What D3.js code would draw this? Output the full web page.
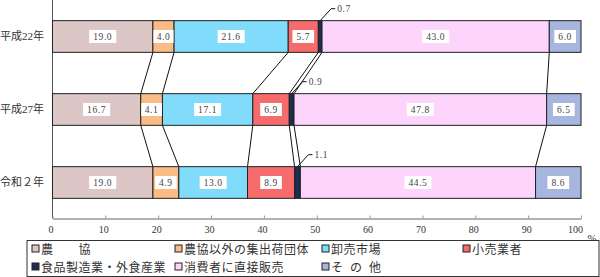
<!DOCTYPE html>
<html><head><meta charset="utf-8">
<script src="https://cdn.jsdelivr.net/npm/d3@7"></script>
<style>
html,body{margin:0;padding:0;background:#fff;}
svg{display:block;font-family:"Liberation Serif","Noto Sans CJK JP",serif;}
</style></head>
<body><svg id="c" width="600" height="277"></svg>
<script>
const categories = ["平成22年", "平成27年", "令和２年"];
const seriesNames = ["農　　協", "農協以外の集出荷団体", "卸売市場", "小売業者", "食品製造業・外食産業", "消費者に直接販売", "そ\u2002の\u2002他"];
const seriesColors = ["#dcc6c6", "#fbbb86", "#80dcfa", "#f66c6c", "#1e2c4e", "#fcd4fc", "#a6b6de"];
const valuesH22 = [19.0, 4.0, 21.6, 5.7, 0.7, 43.0, 6.0];
const valuesH27 = [16.7, 4.1, 17.1, 6.9, 0.9, 47.8, 6.5];
const valuesR2  = [19.0, 4.9, 13.0, 8.9, 1.1, 44.5, 8.6];
const rowValues = [valuesH22, valuesH27, valuesR2];
const tickValues = [0, 10, 20, 30, 40, 50, 60, 70, 80, 90, 100];

const svg = d3.select("#c");
const x = d3.scaleLinear().domain([0, 100]).range([52.5, 581]);
const y = d3.scaleBand().domain(categories).range([0, 219]).paddingInner(0.566).paddingOuter(0.283);
const fmt = d3.format(".1f");

// stacked data
const rows = categories.map((c, i) => {
  let cum = 0;
  const segs = rowValues[i].map((v, k) => {
    const s = {cat: c, k, v, x0: cum, x1: cum + v};
    cum += v;
    return s;
  });
  return {cat: c, segs};
});

// axes lines
svg.append("line").attr("x1", 52.5).attr("x2", 52.5).attr("y1", 0).attr("y2", 218.5)
  .attr("stroke", "#555").attr("stroke-width", 1);

const xAxis = svg.append("g").attr("transform", "translate(0,218.5)")
  .call(d3.axisBottom(x).tickValues(tickValues).tickSize(0).tickPadding(0).tickFormat(d => d));
xAxis.select(".domain").attr("stroke", "#999").attr("stroke-width", 1.5);
xAxis.selectAll(".tick line").remove();
xAxis.selectAll(".tick").append("line").attr("y1", 0).attr("y2", -3).attr("stroke", "#999");
xAxis.selectAll(".tick text").attr("font-size", 10).attr("fill", "#333")
  .attr("font-family", "Liberation Serif").attr("y", 14).attr("dy", 0)
  .attr("dx", d => d === 100 ? -6 : -2);
svg.append("text").attr("x", 592).attr("y", 242).attr("text-anchor", "middle")
  .attr("font-size", 11).attr("fill", "#333").text("%");

// connectors
for (let i = 0; i < rows.length - 1; i++) {
  const a = rows[i], b = rows[i + 1];
  for (let k = 0; k < a.segs.length - 1; k++) {
    svg.append("line")
      .attr("x1", x(a.segs[k].x1)).attr("y1", y(a.cat) + y.bandwidth())
      .attr("x2", x(b.segs[k].x1)).attr("y2", y(b.cat))
      .attr("stroke", "#111").attr("stroke-width", 1);
  }
}

// bars
const g = svg.append("g");
rows.forEach(r => {
  g.selectAll(null).data(r.segs).enter().append("rect")
    .attr("x", d => x(d.x0)).attr("y", y(r.cat))
    .attr("width", d => x(d.x1) - x(d.x0)).attr("height", y.bandwidth())
    .attr("fill", d => seriesColors[d.k]).attr("stroke", "#222").attr("stroke-width", 1);
});

// labels
rows.forEach(r => {
  r.segs.forEach(d => {
    const cx = (x(d.x0) + x(d.x1)) / 2;
    const cy = y(r.cat) + y.bandwidth() / 2;
    const t = fmt(d.v);
    if (d.v >= 2) {
      const lg = svg.append("g");
      const txt = lg.append("text").attr("x", cx).attr("y", cy).attr("dy", "0.35em")
        .attr("text-anchor", "middle").attr("font-size", 9.5).attr("letter-spacing", 0.6)
        .attr("fill", "#444").text(t);
      const bb = txt.node().getBBox();
      const w = Math.min(bb.width + 8, x(d.x1) - x(d.x0) - 1);
      lg.insert("rect", "text").attr("x", cx - w / 2).attr("y", cy - 6.5)
        .attr("width", w).attr("height", 13).attr("fill", "#fff");
    } else {
      const top = y(r.cat);
      const px = cx + 11, py = top - 12;
      svg.append("path").attr("d", `M${cx},${top}L${px},${py}L${px + 4},${py}`)
        .attr("fill", "none").attr("stroke", "#111").attr("stroke-width", 1);
      svg.append("text").attr("x", px + 6).attr("y", py).attr("dy", "0.35em")
        .attr("font-size", 9.5).attr("letter-spacing", 0.6).attr("fill", "#444").text(t);
    }
  });
});

// y labels
svg.selectAll(null).data(categories).enter().append("text")
  .attr("x", 44).attr("y", d => y(d) + y.bandwidth() / 2).attr("dy", "0.35em")
  .attr("text-anchor", "end").attr("font-size", 11).attr("fill", "#333").text(d => d);

// legend
svg.append("rect").attr("x", 27).attr("y", 240.5).attr("width", 572).attr("height", 36)
  .attr("fill", "#fff").attr("stroke", "#333").attr("stroke-width", 1);
const legPos = [[32, 249], [175, 249], [322, 249], [463, 249], [32, 267], [175, 267], [322, 267]];
seriesNames.forEach((n, k) => {
  const [lx, ly] = legPos[k];
  svg.append("rect").attr("x", lx).attr("y", ly - 4).attr("width", 7).attr("height", 7)
    .attr("fill", seriesColors[k]).attr("stroke", "#222").attr("stroke-width", 1);
  svg.append("text").attr("x", lx + 9).attr("y", ly).attr("dy", "0.38em")
    .attr("font-size", 12).attr("letter-spacing", 0.5).attr("fill", "#333").text(n);
});
</script></body></html>
